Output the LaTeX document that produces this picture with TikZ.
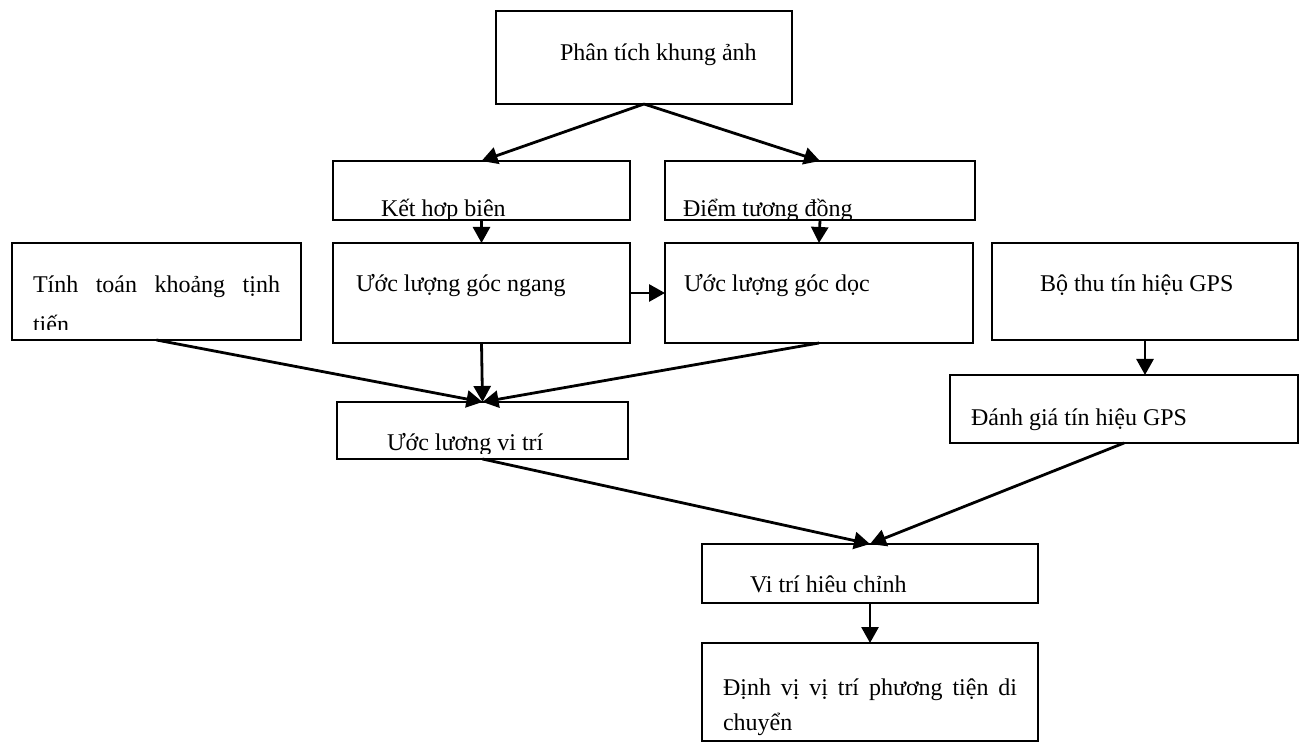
\documentclass[tikz,border=0pt]{standalone}
\usepackage{fontspec}
\setmainfont{Liberation Serif}
\usetikzlibrary{arrows.meta,fit}
\begin{document}
\begin{tikzpicture}[x=0.5pt,y=-0.5pt,
  box/.style={draw, line width=0.95pt, inner sep=0pt, outer sep=0pt, rectangle},
  lbl/.style={inner sep=0pt, outer sep=0pt, anchor=base west, font=\fontsize{12pt}{14pt}\selectfont},
  conn/.style={line width=1.4pt, -{Triangle[length=8pt,width=8.5pt]}}]
\useasboundingbox (0,0) rectangle (1304,742);
% boxes
\node[box, fit={(496,11)(792,104)}] (pk) {};
\node[box, fit={(333,161)(630,220)}] (kh) {};
\node[box, fit={(665,161)(975,220)}] (dt) {};
\node[box, fit={(12,243)(301,340)}] (tt) {};
\node[box, fit={(333,243)(630,343)}] (gn) {};
\node[box, fit={(665,243)(973,343)}] (gd) {};
\node[box, fit={(992,243)(1298,340)}] (bt) {};
\node[box, fit={(950,375)(1298,443)}] (dg) {};
\node[box, fit={(337,402)(628,459)}] (vt) {};
\node[box, fit={(702,544)(1038,603)}] (vh) {};
\node[box, fit={(702,643)(1038,741)}] (dv) {};
% labels
\node[lbl] (pk-t) at (560,61) {Phân tích khung ảnh};
\begin{scope}
\clip (kh.north west) rectangle (kh.south east);
\node[lbl] (kh-t) at (381,217) {Kết hơp biên};
\end{scope}
\begin{scope}
\clip (dt.north west) rectangle (dt.south east);
\node[lbl] (dt-t) at (683,217) {Điểm tương đồng};
\end{scope}
\node[lbl] (tt-t1) at (33,293) {\makebox[123.5pt][s]{Tính toán khoảng tịnh}};
\begin{scope}
\clip (tt.north west) rectangle (301,330);
\node[lbl] (tt-t2) at (33,333) {tiến};
\end{scope}
\node[lbl] (gn-t) at (356,292) {Ước lượng góc ngang};
\node[lbl] (gd-t) at (684,292) {Ước lượng góc dọc};
\node[lbl] (bt-t) at (1040,292) {Bộ thu tín hiệu GPS};
\node[lbl] (dg-t) at (971,425) {Đánh giá tín hiệu GPS};
\begin{scope}
\clip (vt.north west) rectangle (628,453);
\node[lbl] (vt-t) at (387,450) {Ước lương vi trí};
\end{scope}
\node[lbl] (vh-t) at (750,592) {Vi trí hiêu chỉnh};
\node[lbl] (dv-t1) at (723,695) {\makebox[147pt][s]{Định vị vị trí phương tiện di}};
\node[lbl] (dv-t2) at (723,730) {chuyển};
% connectors
\draw[conn] (pk.south) -- (kh.north);
\draw[conn] (pk.south) -- (dt.north);
\draw[conn] (kh.south) -- (gn.north);
\draw[conn] (dt.south) -- (gd.north);
\draw[conn] (gn.east) -- (gd.west);
\draw[conn] (tt.south) -- (vt.north);
\draw[conn] (gn.south) -- (vt.north);
\draw[conn] (gd.south) -- (vt.north);
\draw[conn] (bt.south) -- (bt.south |- dg.north);
\draw[conn] (vt.south) -- (vh.north);
\draw[conn] (dg.south) -- (vh.north);
\draw[conn] (vh.south) -- (dv.north);
\end{tikzpicture}
\end{document}
